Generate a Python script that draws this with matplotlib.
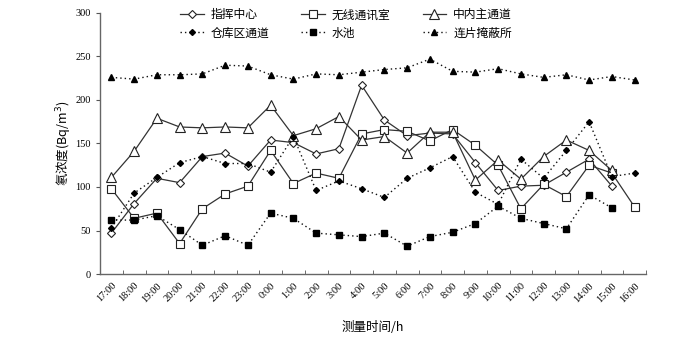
import matplotlib
matplotlib.use("Agg")
import matplotlib.pyplot as plt
import numpy as np

plt.rcParams['font.family'] = ['Liberation Serif', 'Noto Sans CJK SC', 'DejaVu Sans']

times = ["17:00", "18:00", "19:00", "20:00", "21:00", "22:00", "23:00", "0:00",
         "1:00", "2:00", "3:00", "4:00", "5:00", "6:00", "7:00", "8:00", "9:00",
         "10:00", "11:00", "12:00", "13:00", "14:00", "15:00", "16:00"]

zhihui = [47, 81, 110, 105, 135, 139, 124, 154, 151, 138, 144, 217, 177, 159, 162,
          161, 128, 96, 101, 102, 117, 132, 101]
wuxian = [98, 64, 70, 35, 75, 92, 101, 142, 104, 116, 110, 161, 166, 164, 153, 166,
          148, 125, 75, 103, 89, 125, 116, 77]
zhongnei = [111, 141, 179, 169, 168, 169, 168, 194, 159, 167, 181, 154, 158, 139,
            163, 163, 108, 131, 109, 135, 154, 142, 119]
cangku = [53, 93, 111, 128, 135, 127, 127, 117, 158, 96, 107, 98, 88, 110, 122, 135,
          94, 80, 132, 110, 142, 175, 112, 116]
shuichi = [62, 62, 67, 51, 33, 44, 33, 70, 64, 47, 45, 43, 47, 32, 43, 48, 58, 78,
           64, 58, 52, 91, 76]
lianpian = [226, 224, 229, 229, 230, 240, 239, 229, 224, 230, 229, 232, 235, 237,
            247, 233, 232, 236, 230, 226, 229, 223, 227, 223]

names = ["指挥中心", "无线通讯室", "中内主通道", "仓库区通道", "水池", "连片掩蔽所"]

fig = plt.figure(figsize=(7.0, 3.41), dpi=100)
ax = fig.add_axes([100/700, 1-274/341, 546/700, 261/341])

lc = '#333333'
solid = dict(color=lc, lw=0.9, markeredgecolor='#222222', markerfacecolor='white',
             markeredgewidth=0.8)
dot = dict(color='#111111', lw=1.0, linestyle=(0, (1, 2.2)), markeredgecolor='black',
           markerfacecolor='black')

def xs(v):
    return np.arange(len(v))

h = []
h += ax.plot(xs(zhihui), zhihui, marker='D', markersize=4.5, label=names[0], **solid)
h += ax.plot(xs(wuxian), wuxian, marker='s', markersize=6, label=names[1], **solid)
h += ax.plot(xs(zhongnei), zhongnei, marker='^', markersize=7, label=names[2], **solid)
h += ax.plot(xs(cangku), cangku, marker='D', markersize=3, label=names[3], **dot)
h += ax.plot(xs(shuichi), shuichi, marker='s', markersize=3.8, label=names[4], **dot)
h += ax.plot(xs(lianpian), lianpian, marker='^', markersize=4.5, label=names[5], **dot)

ax.set_xlim(-0.5, len(times) - 0.5)
ax.set_ylim(0, 300)
ax.set_yticks(np.arange(0, 301, 50))
ax.set_xticks(np.arange(len(times)))
ax.set_xticklabels(times, rotation=45, ha='right', rotation_mode='anchor', fontsize=7.5)
ax.set_xticks(np.arange(len(times) + 1) - 0.5, minor=True)
ax.tick_params(axis='x', which='major', length=0, pad=5)
ax.tick_params(axis='x', which='minor', length=3, direction='in', color='#555555')
ax.tick_params(axis='y', length=3, direction='out', labelsize=7.5, color='#555555')

for s in ['top', 'right']:
    ax.spines[s].set_visible(False)
for s in ['left', 'bottom']:
    ax.spines[s].set_color('#666666')
    ax.spines[s].set_linewidth(1.0)

ax.set_ylabel("氡浓度(Bq/m$^3$)", fontsize=9, labelpad=1,
              family=['Noto Sans CJK SC', 'DejaVu Sans'])
ax.set_xlabel("测量时间/h", fontsize=9, labelpad=12,
              family=['Noto Sans CJK SC', 'DejaVu Sans'])

order = [0, 3, 1, 4, 2, 5]
leg = ax.legend([h[i] for i in order], [names[i] for i in order],
                ncol=3, loc='upper left', bbox_to_anchor=(0.1465, 1.018),
                frameon=False, handlelength=2.0, handletextpad=0.6,
                columnspacing=2.7, labelspacing=0.45, numpoints=1,
                borderpad=0, borderaxespad=0,
                prop={'family': ['Noto Sans CJK SC', 'DejaVu Sans'], 'size': 8.5})

fig.savefig("out.png", dpi=100)
